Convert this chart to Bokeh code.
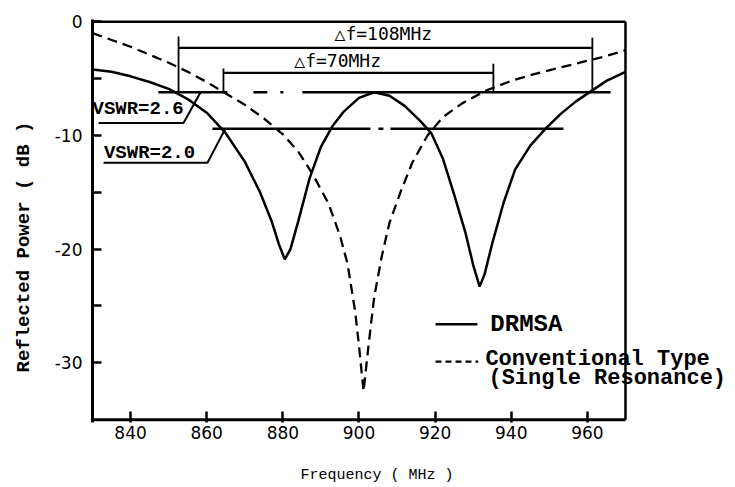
from bokeh.plotting import figure
from bokeh.models import FixedTicker, Label, Title, LinearAxis
from bokeh.embed import file_html
from bokeh.resources import INLINE

# ---- data ----
drmsa_f = [830, 835, 840, 845, 850, 855, 860, 865, 870, 874, 877, 879, 880.5, 882, 884, 887, 890,
           893, 896, 900, 904, 908, 912, 916, 919, 922, 925, 928, 930, 931.7, 933, 935, 938, 941,
           945, 949, 953, 957, 961, 965, 970]
drmsa_db = [-4.2, -4.4, -4.8, -5.3, -5.9, -6.8, -8.0, -9.8, -12.3, -15.0, -17.5, -19.6, -20.9, -20.0,
            -17.6, -13.8, -11.0, -9.2, -7.9, -6.7, -6.2, -6.5, -7.4, -8.7, -9.8, -12.0, -15.2, -18.6,
            -21.4, -23.3, -22.2, -19.5, -15.9, -13.0, -10.9, -9.4, -8.1, -7.0, -6.1, -5.2, -4.4]

conv_f = [830, 835, 840, 845, 850, 855, 860, 865, 870, 875, 880, 884, 888, 892, 895, 897, 899, 900,
          901.2, 902.5, 904, 906, 908, 911, 914, 918, 922, 927, 933, 940, 946, 952, 958, 964, 970]
conv_db = [-1.0, -1.6, -2.2, -2.9, -3.6, -4.4, -5.3, -6.3, -7.3, -8.5, -9.9, -11.4, -13.5, -16.0,
           -18.8, -21.3, -25.5, -28.5, -32.5, -28.5, -24.2, -20.6, -17.7, -14.9, -12.4, -10.0, -8.4,
           -7.2, -6.1, -5.2, -4.6, -4.1, -3.6, -3.1, -2.5]

x_ticks = [840, 860, 880, 900, 920, 940, 960]
y_ticks = [0, -10, -20, -30]
y_minor = [-5, -15, -25]
y_tick_labels = {0: "0", -10: "-10", -20: "-20", -30: "-30"}
f_min, f_max = 830, 970
db_min, db_max = -35, 0

vswr26_db = -6.2   # VSWR=2.6 level
vswr20_db = -9.4   # VSWR=2.0 level
band108 = [852.6, 961.3]
band70 = [864.4, 935.3]

MONO = "Liberation Mono"

p = figure(width=735, height=487, x_range=(830, 998.9), y_range=(-35.25, 0.2),
           output_backend="svg", toolbar_location=None,
           min_border_left=92, min_border_right=0, min_border_top=19, min_border_bottom=65)
p.xgrid.visible = False
p.ygrid.visible = False
p.outline_line_color = None
p.background_fill_color = "white"
p.border_fill_color = "white"

for ax in (p.xaxis[0], p.yaxis[0]):
    ax.axis_line_width = 3
    ax.axis_line_color = "black"
    ax.major_tick_out = 0
    ax.major_tick_line_width = 2.5
    ax.minor_tick_out = 0
    ax.minor_tick_line_width = 2.5
    ax.major_label_text_font = "DejaVu Sans"
    ax.major_label_text_font_size = "17px"
    ax.major_label_text_color = "black"

p.xaxis.ticker = FixedTicker(ticks=x_ticks)
p.xaxis.axis_line_color = None
p.xaxis.major_tick_in = 11
p.xaxis.minor_tick_line_color = None
p.xaxis.major_label_standoff = 3

p.yaxis.ticker = FixedTicker(ticks=y_ticks, minor_ticks=y_minor)
p.yaxis.major_tick_in = 9
p.yaxis.minor_tick_in = 9
p.yaxis.major_label_overrides = y_tick_labels
p.yaxis.major_label_standoff = 10


def spacer(size, at):
    # a blank axis (one white, unlabeled tick) used only to leave room before the axis titles
    return LinearAxis(ticker=FixedTicker(ticks=[at], minor_ticks=[]), major_tick_out=size,
                      major_tick_in=0, axis_line_color=None,
                      major_tick_line_color="white", major_tick_line_width=0.1,
                      minor_tick_line_color=None, minor_tick_out=0, minor_tick_in=0,
                      major_label_overrides={at: ""}, major_label_standoff=0,
                      major_label_text_font_size="1px", major_label_text_color="white")


p.add_layout(spacer(22, 900), "below")
xt = Title(text="Frequency ( MHz )", align="left", offset=208, standoff=2,
           text_font=MONO, text_font_size="15px", text_font_style="normal", text_color="black")
p.add_layout(xt, "below")

p.add_layout(spacer(12, -20), "left")
yt = Title(text="Reflected Power ( dB )", align="left", offset=50, standoff=10,
           text_font=MONO, text_font_size="19px", text_font_style="bold", text_color="black")
p.add_layout(yt, "left")

# frame lines (bottom, top, right)
p.line([f_min, f_max], [db_min, db_min], line_color="black", line_width=3)
p.line([f_min, f_max], [db_max, db_max], line_color="black", line_width=2.5)
p.line([f_max, f_max], [db_min, db_max], line_color="black", line_width=2.5)

# curves
p.line(drmsa_f, drmsa_db, line_color="black", line_width=2.5)
p.line(conv_f, conv_db, line_color="black", line_width=2.3, line_dash="10 6")

# VSWR levels
p.line([847.3, 966.1], [vswr26_db, vswr26_db], line_color="black", line_width=2.5,
       line_dash="69 26 14 13 3 19 600")
p.line([861.5, 953.7], [vswr20_db, vswr20_db], line_color="black", line_width=2.5,
       line_dash="158 8 5 7 600")

# bandwidth brackets
p.line(band108, [-2.3, -2.3], line_color="black", line_width=2.3)
p.line([band108[0], band108[0]], [-1.3, vswr26_db], line_color="black", line_width=1.8)
p.line([band108[1], band108[1]], [-1.4, vswr26_db], line_color="black", line_width=1.8)
p.line(band70, [-4.5, -4.5], line_color="black", line_width=2.3)
p.line([band70[0], band70[0]], [-4.1, vswr26_db], line_color="black", line_width=1.8)
p.line([band70[1], band70[1]], [-3.7, vswr26_db], line_color="black", line_width=1.8)

p.add_layout(Label(x=906.4, y=-1.0, text="\u25b3f=108MHz", text_font="DejaVu Sans Mono",
                   text_font_size="18px", text_align="center", text_baseline="middle",
                   text_color="black"))
p.add_layout(Label(x=894.4, y=-3.4, text="\u25b3f=70MHz", text_font="DejaVu Sans Mono",
                   text_font_size="18px", text_align="center", text_baseline="middle",
                   text_color="black"))

# VSWR labels with leaders
p.add_layout(Label(x=830.0, y=-7.7, text="VSWR=2.6", text_font=MONO, text_font_size="19px",
                   text_font_style="bold", text_baseline="middle", text_color="black"))
p.line([831.6, 853.9, 858.4], [-8.9, -8.9, vswr26_db], line_color="black", line_width=2)
p.add_layout(Label(x=833.0, y=-11.5, text="VSWR=2.0", text_font=MONO, text_font_size="19px",
                   text_font_style="bold", text_baseline="middle", text_color="black"))
p.line([832.9, 860.2, 864.9], [-12.4, -12.4, vswr20_db], line_color="black", line_width=2)

# legend (drawn as in the original)
p.line([920.1, 931.1], [-26.6, -26.6], line_color="black", line_width=2.5)
p.line([920.1, 931.3], [-29.9, -29.9], line_color="black", line_width=2.3, line_dash="6 4")
p.add_layout(Label(x=934.5, y=-26.6, text="DRMSA", text_font=MONO, text_font_size="24px",
                   text_font_style="bold", text_baseline="middle", text_color="black"))
p.add_layout(Label(x=933.2, y=-29.7, text="Conventional Type", text_font=MONO,
                   text_font_size="22px", text_font_style="bold", text_baseline="middle",
                   text_color="black"))
p.add_layout(Label(x=934.0, y=-31.4, text="(Single Resonance)", text_font=MONO,
                   text_font_size="22px", text_font_style="bold", text_baseline="middle",
                   text_color="black"))

open("out.html", "w").write(file_html(p, INLINE))
